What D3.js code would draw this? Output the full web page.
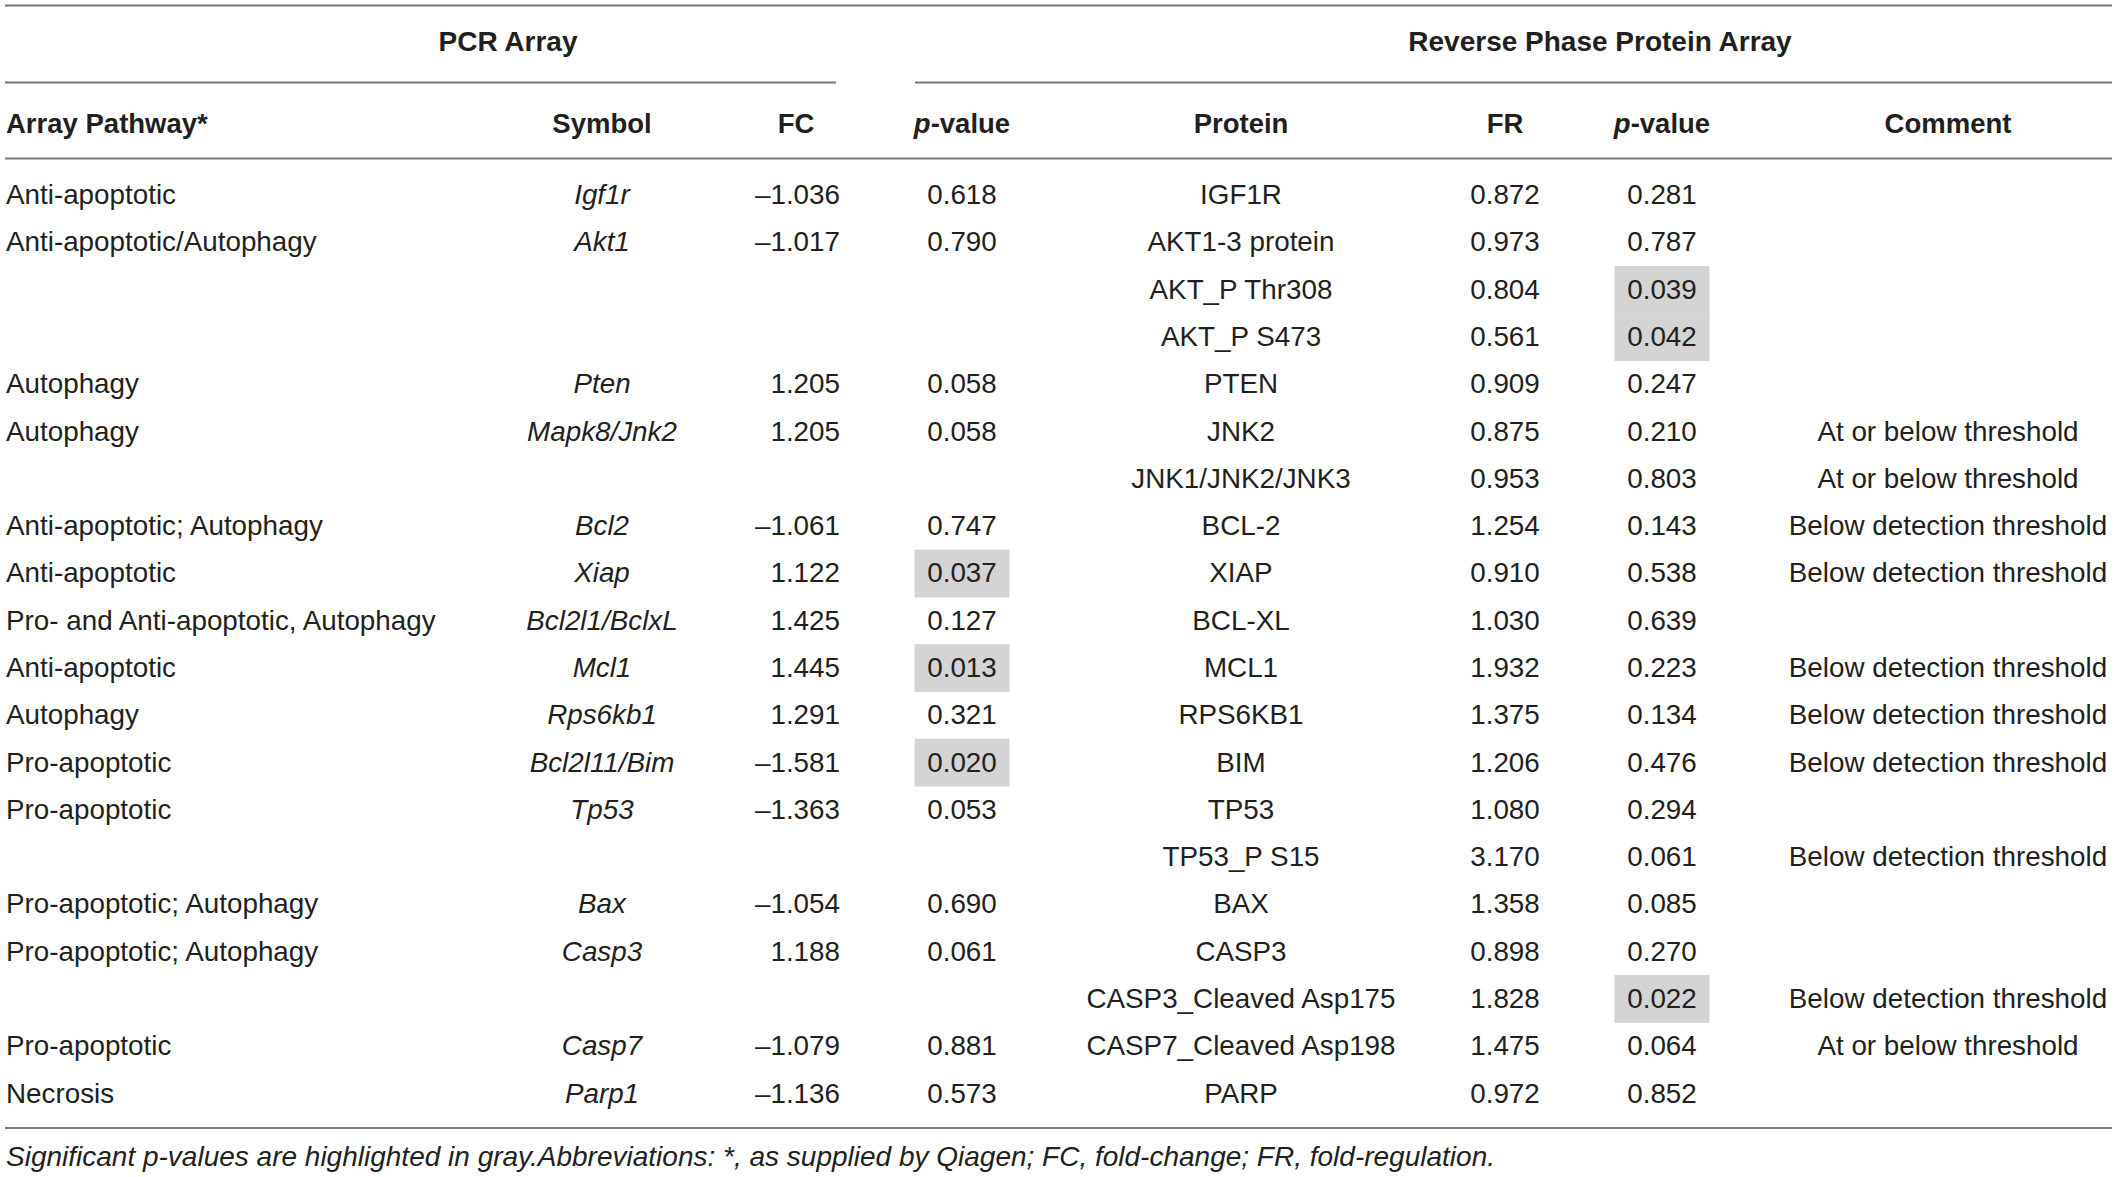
<!DOCTYPE html>
<html>
<head>
<meta charset="utf-8">
<script src="https://cdn.jsdelivr.net/npm/d3@7"></script>
<style>
  html, body { margin: 0; padding: 0; background: #fff; }
  svg { display: block; font-family: "Liberation Sans", Arial, sans-serif; }
</style>
</head>
<body>
<svg id="table" width="2118" height="1177"></svg>
<script>
const pathways = ["Anti-apoptotic", "Anti-apoptotic/Autophagy", "", "", "Autophagy", "Autophagy", "",
  "Anti-apoptotic; Autophagy", "Anti-apoptotic", "Pro- and Anti-apoptotic, Autophagy", "Anti-apoptotic",
  "Autophagy", "Pro-apoptotic", "Pro-apoptotic", "", "Pro-apoptotic; Autophagy", "Pro-apoptotic; Autophagy",
  "", "Pro-apoptotic", "Necrosis"];
const symbols = ["Igf1r", "Akt1", "", "", "Pten", "Mapk8/Jnk2", "", "Bcl2", "Xiap", "Bcl2l1/BclxL", "Mcl1",
  "Rps6kb1", "Bcl2l11/Bim", "Tp53", "", "Bax", "Casp3", "", "Casp7", "Parp1"];
const foldChange = [-1.036, -1.017, null, null, 1.205, 1.205, null, -1.061, 1.122, 1.425, 1.445, 1.291,
  -1.581, -1.363, null, -1.054, 1.188, null, -1.079, -1.136];
const pcrP = [0.618, 0.790, null, null, 0.058, 0.058, null, 0.747, 0.037, 0.127, 0.013, 0.321, 0.020, 0.053,
  null, 0.690, 0.061, null, 0.881, 0.573];
const proteins = ["IGF1R", "AKT1-3 protein", "AKT_P Thr308", "AKT_P S473", "PTEN", "JNK2", "JNK1/JNK2/JNK3",
  "BCL-2", "XIAP", "BCL-XL", "MCL1", "RPS6KB1", "BIM", "TP53", "TP53_P S15", "BAX", "CASP3",
  "CASP3_Cleaved Asp175", "CASP7_Cleaved Asp198", "PARP"];
const foldReg = [0.872, 0.973, 0.804, 0.561, 0.909, 0.875, 0.953, 1.254, 0.910, 1.030, 1.932, 1.375, 1.206,
  1.080, 3.170, 1.358, 0.898, 1.828, 1.475, 0.972];
const rppaP = [0.281, 0.787, 0.039, 0.042, 0.247, 0.210, 0.803, 0.143, 0.538, 0.639, 0.223, 0.134, 0.476,
  0.294, 0.061, 0.085, 0.270, 0.022, 0.064, 0.852];
const comments = ["", "", "", "", "", "At or below threshold", "At or below threshold",
  "Below detection threshold", "Below detection threshold", "", "Below detection threshold",
  "Below detection threshold", "Below detection threshold", "", "Below detection threshold", "", "",
  "Below detection threshold", "At or below threshold", ""];
const columnKeys = ["pathway", "symbol", "fc", "pcrP", "protein", "fr", "rppaP", "comment"];
const headerLabels = ["Array Pathway*", "Symbol", "FC", "p-value", "Protein", "FR", "p-value", "Comment"];
const groupLabels = ["PCR Array", "Reverse Phase Protein Array"];
const footnote = "Significant p-values are highlighted in gray.Abbreviations: *, as supplied by Qiagen; FC, fold-change; FR, fold-regulation.";
const significance = 0.05;

const ink = "#231f20";
const rule = "#777";
const shade = "#d4d4d4";

const svg = d3.select("#table");
const rows = d3.range(proteins.length);
const y = d3.scaleBand().domain(rows).range([171.4, 1117.0]);
const colX = d3.scaleOrdinal().domain(columnKeys).range([6, 602, 796, 962, 1241, 1505, 1662, 1948]);
const fmt = d3.format(".3f");
const fmtSigned = (v) => (v < 0 ? "\u2013" : "") + fmt(Math.abs(v));

// horizontal rules
const rules = [
  { x1: 5, x2: 2112, y: 5.5 },
  { x1: 5, x2: 836, y: 82.5 },
  { x1: 915, x2: 2112, y: 82.5 },
  { x1: 5, x2: 2112, y: 158.5 },
  { x1: 5, x2: 2112, y: 1128 }
];
svg.selectAll("line.rule").data(rules).join("line")
  .attr("class", "rule")
  .attr("x1", (d) => d.x1).attr("x2", (d) => d.x2)
  .attr("y1", (d) => d.y).attr("y2", (d) => d.y)
  .attr("stroke", rule).attr("stroke-width", 2);

// significant p-value shading
const shadeCells = [];
rows.forEach((i) => {
  if (pcrP[i] != null && pcrP[i] < significance) shadeCells.push({ col: "pcrP", row: i });
  if (rppaP[i] != null && rppaP[i] < significance) shadeCells.push({ col: "rppaP", row: i });
});
svg.selectAll("rect.sig").data(shadeCells).join("rect")
  .attr("class", "sig")
  .attr("x", (d) => colX(d.col) - 47.5)
  .attr("width", 95)
  .attr("y", (d) => y(d.row))
  .attr("height", y.bandwidth() + 0.5)
  .attr("fill", shade);

// group titles
svg.selectAll("text.group").data(groupLabels).join("text")
  .attr("class", "group")
  .attr("x", (d, i) => [508, 1600][i])
  .attr("y", 41)
  .attr("dy", "0.36em")
  .attr("text-anchor", "middle")
  .attr("font-size", 28).attr("font-weight", 700).attr("fill", ink)
  .text((d) => d);

// column headers
const headers = svg.selectAll("text.header").data(headerLabels).join("text")
  .attr("class", "header")
  .attr("x", (d, i) => colX(columnKeys[i]))
  .attr("y", 123)
  .attr("dy", "0.36em")
  .attr("text-anchor", (d, i) => (i === 0 ? "start" : "middle"))
  .attr("font-size", 27.5).attr("font-weight", 700).attr("fill", ink);
headers.each(function (d) {
  const t = d3.select(this);
  if (d.startsWith("p-")) {
    t.append("tspan").attr("font-style", "italic").text("p");
    t.append("tspan").text(d.slice(1));
  } else {
    t.text(d);
  }
});

// body cells
const cells = [];
rows.forEach((i) => {
  if (pathways[i]) cells.push({ col: "pathway", row: i, text: pathways[i], anchor: "start" });
  if (symbols[i]) cells.push({ col: "symbol", row: i, text: symbols[i], italic: true });
  if (foldChange[i] != null) cells.push({ col: "fc", row: i, text: fmtSigned(foldChange[i]), anchor: "end", dx: 44 });
  if (pcrP[i] != null) cells.push({ col: "pcrP", row: i, text: fmt(pcrP[i]) });
  cells.push({ col: "protein", row: i, text: proteins[i] });
  cells.push({ col: "fr", row: i, text: fmt(foldReg[i]) });
  cells.push({ col: "rppaP", row: i, text: fmt(rppaP[i]) });
  if (comments[i]) cells.push({ col: "comment", row: i, text: comments[i] });
});
svg.selectAll("text.cell").data(cells).join("text")
  .attr("class", "cell")
  .attr("x", (d) => colX(d.col) + (d.dx || 0))
  .attr("y", (d) => y(d.row) + y.bandwidth() / 2)
  .attr("dy", "0.33em")
  .attr("text-anchor", (d) => d.anchor || "middle")
  .attr("font-size", 27.8)
  .attr("font-style", (d) => (d.italic ? "italic" : "normal"))
  .attr("fill", ink)
  .text((d) => d.text);

// footnote
svg.append("text")
  .attr("x", 6).attr("y", 1156)
  .attr("dy", "0.36em")
  .attr("font-size", 28).attr("font-style", "italic").attr("fill", ink)
  .text(footnote);
</script>
</body>
</html>
